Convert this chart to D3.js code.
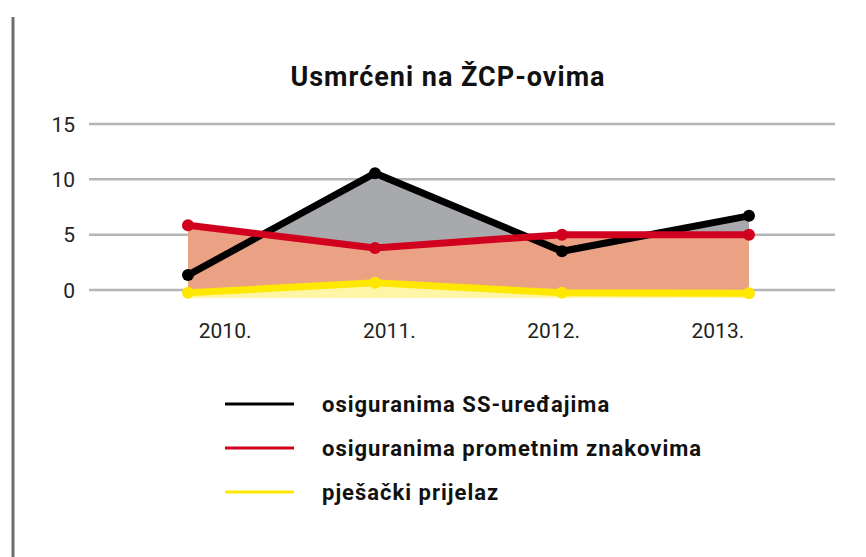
<!DOCTYPE html>
<html>
<head>
<meta charset="utf-8">
<script src="https://cdn.jsdelivr.net/npm/d3@7"></script>
<style>
  body { margin: 0; background: #fff; }
  svg { display: block; font-family: Roboto, "Noto Sans", sans-serif; }
</style>
</head>
<body>
<div id="chart"></div>
<script>
// data
var years = ["2010.", "2011.", "2012.", "2013."];
var ssDevices = [1.35, 10.55, 3.5, 6.7];
var trafficSigns = [5.85, 3.8, 5.0, 5.0];
var crossing = [-0.25, 0.65, -0.25, -0.3];
var yTicks = [0, 5, 10, 15];

var seriesNames = ["osiguranima SS-uređajima", "osiguranima prometnim znakovima", "pješački prijelaz"];
var lineColors = ["#000000", "#d2001f", "#ffe800"];
var areaColors = ["#a7a9ac", "#eba184", "#fff5a6"];

var width = 866, height = 557;

var svg = d3.select("#chart")
  .append("svg")
  .attr("width", width)
  .attr("height", height);

// left border
svg.append("line")
  .attr("x1", 13).attr("x2", 13)
  .attr("y1", 17).attr("y2", height)
  .attr("stroke", "#6d6e71")
  .attr("stroke-width", 3);

// title
svg.append("text")
  .attr("x", 448)
  .attr("y", 86)
  .attr("text-anchor", "middle")
  .style("font-size", "27px")
  .style("font-weight", 700)
  .style("letter-spacing", "1px")
  .attr("fill", "#111")
  .text("Usmrćeni na ŽCP-ovima");

var y = d3.scaleLinear()
  .domain([0, 15])
  .range([290, 124]);

// marks and labels use slightly different horizontal spacing in the original
var x = d3.scalePoint()
  .domain(years)
  .range([188, 749]);

var xLabel = d3.scaleBand()
  .domain(years)
  .range([143, 800]);

// grid lines
svg.append("g").attr("class", "grid")
  .selectAll("line")
  .data(yTicks)
  .join("line")
  .attr("x1", 89).attr("x2", 835)
  .attr("y1", d => y(d)).attr("y2", d => y(d))
  .attr("stroke", "#b5b5b7")
  .attr("stroke-width", 2.5);

// y axis labels
svg.append("g").attr("class", "yLabels")
  .selectAll("text")
  .data(yTicks)
  .join("text")
  .attr("x", 75)
  .attr("y", d => y(d))
  .attr("dy", "0.36em")
  .attr("text-anchor", "end")
  .style("font-size", "21px")
  .attr("fill", "#231f20")
  .text(d => d);

// x axis labels
svg.append("g").attr("class", "xLabels")
  .selectAll("text")
  .data(years)
  .join("text")
  .attr("x", d => xLabel(d) + xLabel.bandwidth() / 2)
  .attr("y", 338)
  .attr("text-anchor", "middle")
  .style("font-size", "21px")
  .attr("fill", "#231f20")
  .text(d => d);

var data = [ssDevices, trafficSigns, crossing];
var baseline = -0.72;

var area = d3.area()
  .x((d, i) => x(years[i]))
  .y0(y(baseline))
  .y1(d => y(d));

var line = d3.line()
  .x((d, i) => x(years[i]))
  .y(d => y(d));

// areas first, stacked in drawing order
data.forEach((s, k) => {
  svg.append("path")
    .datum(s)
    .attr("d", area)
    .attr("fill", areaColors[k]);
});

// lines and dots
data.forEach((s, k) => {
  var g = svg.append("g").attr("class", "series" + k);
  g.append("path")
    .datum(s)
    .attr("d", line)
    .attr("fill", "none")
    .attr("stroke", lineColors[k])
    .attr("stroke-width", 7);
  g.selectAll("circle")
    .data(s)
    .join("circle")
    .attr("cx", (d, i) => x(years[i]))
    .attr("cy", d => y(d))
    .attr("r", 6)
    .attr("fill", lineColors[k]);
});

// legend
var legend = svg.append("g").attr("class", "legend")
  .selectAll("g")
  .data(seriesNames)
  .join("g")
  .attr("transform", (d, i) => `translate(0,${404 + i * 44})`);

legend.append("line")
  .attr("x1", 225).attr("x2", 294)
  .attr("y1", 0).attr("y2", 0)
  .attr("stroke", (d, i) => lineColors[i])
  .attr("stroke-width", 3);

legend.append("text")
  .attr("x", 322)
  .attr("y", 0)
  .attr("dy", "0.35em")
  .style("font-size", "22px")
  .style("font-weight", 700)
  .style("letter-spacing", "1px")
  .attr("fill", "#111")
  .text(d => d);
</script>
</body>
</html>
